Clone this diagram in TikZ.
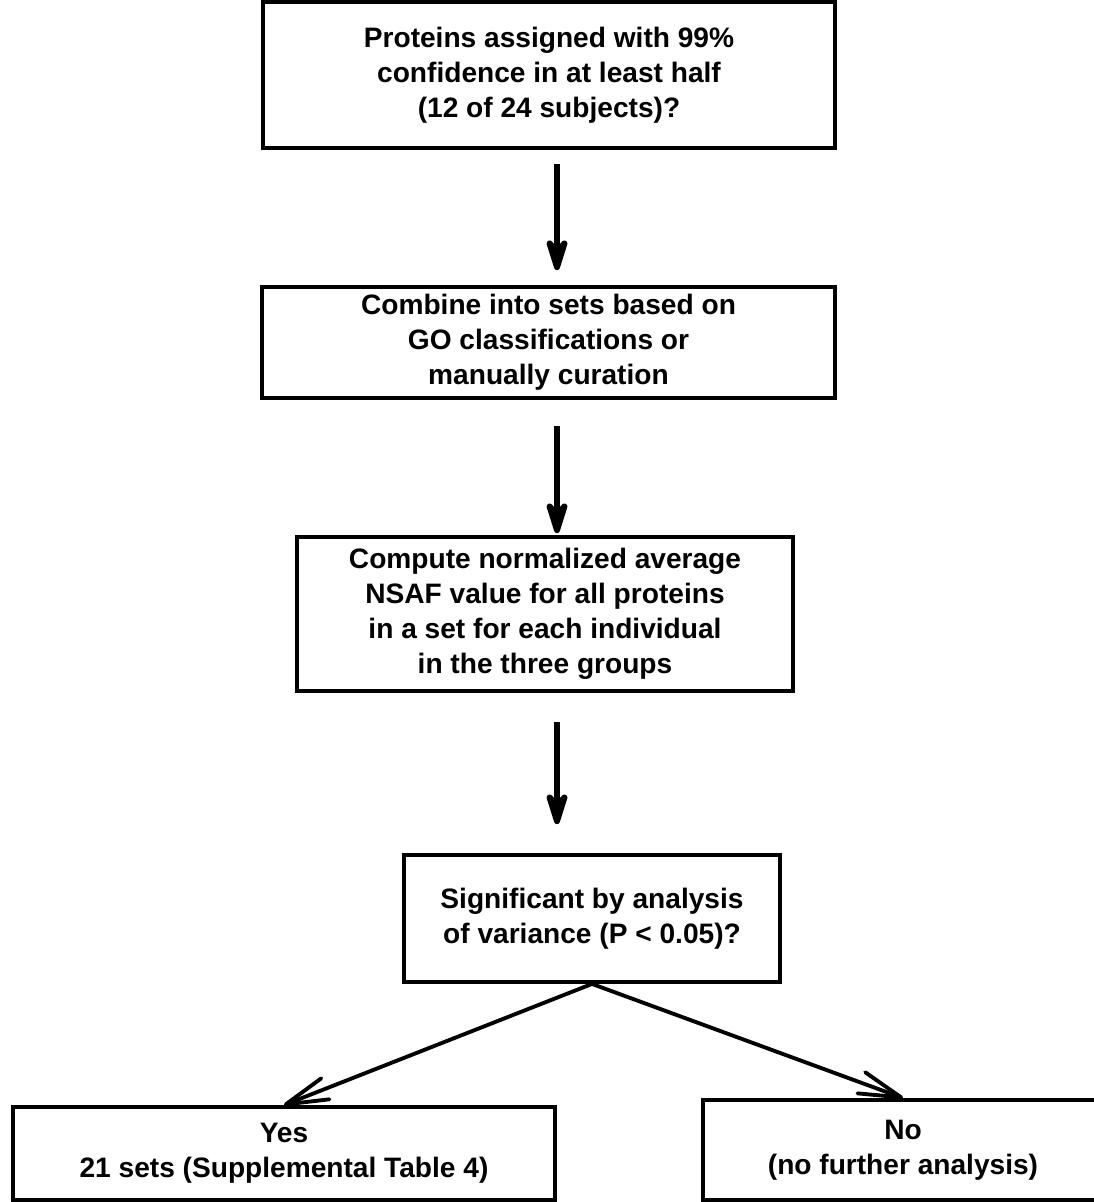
\documentclass[tikz,border=0pt]{standalone}
\usepackage{fontspec}
\setmainfont{Liberation Sans}
\usetikzlibrary{arrows,arrows.meta,positioning}
\tikzset{
  stepbox/.style={draw,rectangle,line width=2.2pt,align=center,inner sep=0pt,
    font=\bfseries\fontsize{16}{20}\selectfont},
  flow/.style={-{Stealth[length=0.9cm,width=0.56cm,inset=0.3cm,round]},line width=3.4pt},
  branch/.style={-{Straight Barb[length=0.85cm,width=0.45cm,round]},line width=2.2pt,line cap=round}
}

\begin{document}
\begin{tikzpicture}[x=0.02cm,y=-0.02cm]
  \useasboundingbox (0,0) rectangle (1093,1202);
  \node[stepbox,minimum width=11.44cm,minimum height=2.92cm] (prot) at (549,75)
    {Proteins assigned with 99\%\\confidence in at least half\\(12 of 24 subjects)?};
  \node[stepbox,minimum width=11.46cm,minimum height=2.22cm] (combine) at (548.5,342.5)
    {Combine into sets based on\\GO classifications or\\manually curation};
  \node[stepbox,minimum width=9.92cm,minimum height=3.08cm] (compute) at (545,614)
    {Compute normalized average\\NSAF value for all proteins\\in a set for each individual\\in the three groups};
  \node[stepbox,minimum width=7.52cm,minimum height=2.54cm] (anova) at (592,918.5)
    {Significant by analysis\\of variance (P < 0.05)?};
  \node[stepbox,minimum width=10.84cm,minimum height=1.86cm] (yes) at (284,1153.5)
    {Yes\\21 sets (Supplemental Table 4)};
  \node[stepbox,minimum width=8cm,minimum height=2cm] (no) at (903,1150)
    {No\\(no further analysis)};
  % arrows down the middle
  \coordinate (axis) at (557,0);
  \draw[flow,shorten <=0.28cm,shorten >=0.3cm] (prot.south -| axis) -- (combine.north -| axis);
  \draw[flow,shorten <=0.52cm,shorten >=0.04cm] (combine.south -| axis) -- (compute.north -| axis);
  \draw[flow,shorten <=0.58cm,shorten >=0.58cm] (compute.south -| axis) -- (anova.north -| axis);
  % yes / no
  \draw[branch] (anova.south) -- (yes.north);
  \draw[branch] (anova.south) -- (no.north);
\end{tikzpicture}
\end{document}
